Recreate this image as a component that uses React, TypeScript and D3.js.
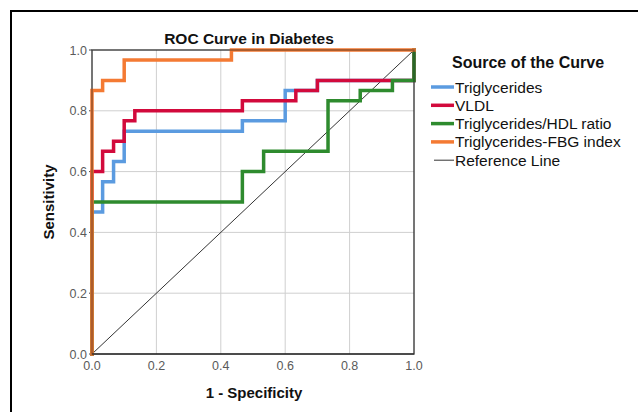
import React from "react";
import * as d3 from "d3";

const title = "ROC Curve in Diabetes";
const xTitle = "1 - Specificity";
const yTitle = "Sensitivity";
const legendTitle = "Source of the Curve";
const ticks = [0, 0.2, 0.4, 0.6, 0.8, 1.0];

const seriesNames = ["Triglycerides", "VLDL", "Triglycerides/HDL ratio", "Triglycerides-FBG index"];
const seriesColors = ["#5b9be0", "#d20a3c", "#2e8b2e", "#f47a33"];

// [1 - specificity, sensitivity] step points
const triglycerides: [number, number][] = [
  [0, 0], [0, 0.467], [0.033, 0.467], [0.033, 0.567], [0.067, 0.567], [0.067, 0.633],
  [0.1, 0.633], [0.1, 0.733], [0.467, 0.733], [0.467, 0.767], [0.6, 0.767], [0.6, 0.867],
  [0.7, 0.867], [0.7, 0.9], [1, 0.9], [1, 1],
];
const vldl: [number, number][] = [
  [0, 0], [0, 0.6], [0.033, 0.6], [0.033, 0.667], [0.067, 0.667], [0.067, 0.7],
  [0.1, 0.7], [0.1, 0.767], [0.133, 0.767], [0.133, 0.8], [0.467, 0.8], [0.467, 0.833],
  [0.633, 0.833], [0.633, 0.867], [0.7, 0.867], [0.7, 0.9], [1, 0.9], [1, 1],
];
const tgHdl: [number, number][] = [
  [0, 0], [0, 0.5], [0.467, 0.5], [0.467, 0.6], [0.533, 0.6], [0.533, 0.667],
  [0.733, 0.667], [0.733, 0.833], [0.833, 0.833], [0.833, 0.867], [0.933, 0.867],
  [0.933, 0.9], [1, 0.9], [1, 1],
];
const tgFbg: [number, number][] = [
  [0, 0], [0, 0.867], [0.033, 0.867], [0.033, 0.9], [0.1, 0.9], [0.1, 0.967],
  [0.433, 0.967], [0.433, 1], [1, 1],
];
const seriesData = [triglycerides, vldl, tgHdl, tgFbg];
const referenceLine: [number, number][] = [[0, 0], [1, 1]];

export default function App() {
  const W = 638, H = 412;
  const x = d3.scaleLinear().domain([0, 1]).range([92, 414]);
  const y = d3.scaleLinear().domain([0, 1]).range([354, 50]);
  const line = d3.line<[number, number]>().x((d) => x(d[0])).y((d) => y(d[1]));
  const font = "'Liberation Sans', Arial, sans-serif";

  return (
    <svg width={W} height={H} style={{ position: "absolute", left: 0, top: 0 }} fontFamily={font}>
      <rect x={0} y={0} width={W} height={H} fill="#fff" />
      <rect x={11} y={11} width={W + 20} height={H + 20} fill="none" stroke="#000" strokeWidth={2} />
      {/* grid */}
      {ticks.slice(1, -1).map((t) => (
        <g key={"g" + t}>
          <line x1={x(t)} x2={x(t)} y1={y(0)} y2={y(1)} stroke="#cfcfcf" strokeWidth={1} />
          <line x1={x(0)} x2={x(1)} y1={y(t)} y2={y(t)} stroke="#cfcfcf" strokeWidth={1} />
        </g>
      ))}
      {/* frame */}
      <rect x={x(0)} y={y(1)} width={x(1) - x(0)} height={y(0) - y(1)} fill="none" stroke="#444" strokeWidth={1} />
      {/* tick labels */}
      {ticks.map((t) => (
        <g key={"t" + t}>
          <line x1={x(0) - 3} x2={x(0)} y1={y(t)} y2={y(t)} stroke="#444" />
          <text x={x(0) - 5} y={y(t) + 4.5} textAnchor="end" fontSize={12.5} fill="#5a5a5a">{t.toFixed(1)}</text>
          <text x={x(t)} y={y(0) + 16} textAnchor="middle" fontSize={12.5} fill="#5a5a5a">{t.toFixed(1)}</text>
        </g>
      ))}
      {/* reference */}
      <path d={line(referenceLine) || ""} stroke="#333" strokeWidth={1} fill="none" />
      {/* curves */}
      {seriesData.map((s, i) => (
        <path key={i} d={line(s) || ""} stroke={seriesColors[i]} strokeWidth={3.5} fill="none" strokeLinejoin="miter" strokeLinecap="square" />
      ))}
      <rect x={x(0)} y={y(1)} width={x(1) - x(0)} height={y(0) - y(1)} fill="none" stroke="#222" strokeWidth={1.5} strokeOpacity={0.45} />
      <line x1={x(0)} x2={x(1)} y1={y(0)} y2={y(0)} stroke="#222" strokeWidth={1.2} />
      {/* titles */}
      <text x={249} y={44} textAnchor="middle" fontSize={15.5} fontWeight="bold" fill="#111">{title}</text>
      <text x={254} y={398} textAnchor="middle" fontSize={15} fontWeight="bold" fill="#111">{xTitle}</text>
      <text transform={`translate(54,${y(0.5)}) rotate(-90)`} textAnchor="middle" fontSize={15} fontWeight="bold" fill="#111">{yTitle}</text>
      {/* legend */}
      <text x={452} y={68} fontSize={16} fontWeight="bold" fill="#111">{legendTitle}</text>
      {seriesNames.map((n, i) => (
        <g key={n}>
          <line x1={431} x2={454} y1={87 + i * 18.3} y2={87 + i * 18.3} stroke={seriesColors[i]} strokeWidth={3.5} />
          <text x={455} y={92.5 + i * 18.3} fontSize={15.5} fill="#111">{n}</text>
        </g>
      ))}
      <line x1={434} x2={454} y1={87 + 4 * 18.3} y2={87 + 4 * 18.3} stroke="#333" strokeWidth={1} />
      <text x={455} y={92.5 + 4 * 18.3} fontSize={15.5} fill="#111">Reference Line</text>
    </svg>
  );
}
